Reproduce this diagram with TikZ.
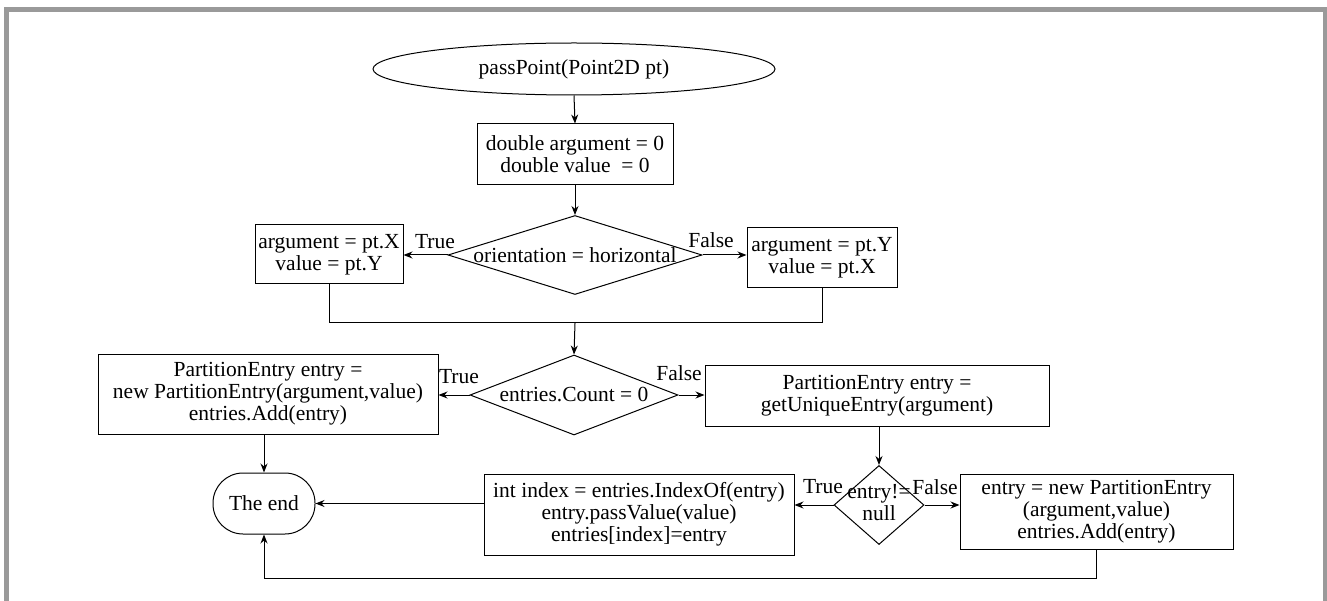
\documentclass[tikz,border=0pt]{standalone}
\usepackage{fontspec}
\setmainfont{Liberation Serif}
\usetikzlibrary{shapes.geometric,arrows.meta}
\definecolor{framegray}{RGB}{154,154,154}
\begin{document}
\begin{tikzpicture}[x=1pt,y=-1pt,
  every node/.style={font=\fontsize{21.5}{22}\selectfont},
  box/.style={draw,line width=1pt,inner sep=0pt,align=center},
  dia/.style={draw,diamond,line width=1pt,inner sep=0pt},
  lbl/.style={inner sep=0pt},
  arr/.style={line width=1pt,-{Stealth[length=9pt,width=7pt]}},
  ln/.style={line width=1pt}]
\useasboundingbox (0,0) rectangle (1327,601);
\draw[line width=5pt,color=framegray] (6.5,601) -- (6.5,9.5) -- (1325,9.5) -- (1325,601);
\node[draw,ellipse,line width=1pt,inner sep=0pt,minimum width=402,minimum height=52] (start) at (574,69) {passPoint(Point2D pt)};
\node[box,minimum width=196,minimum height=61] (b1) at (575,154.5) {double argument = 0\\double value~\ = 0};
\node[dia,minimum width=254,minimum height=79] (d1) at (575,255) {\makebox[0pt]{orientation = horizontal}};
\node[box,minimum width=148,minimum height=59] (lb1) at (329,254.5) {argument = pt.X\\value = pt.Y};
\node[box,minimum width=150,minimum height=60] (rb1) at (822,258) {argument = pt.Y\\value = pt.X};
\coordinate (m) at (575,323);
\node[dia,minimum width=208,minimum height=80] (d2) at (574,395) {\makebox[0pt]{entries.Count = 0}};
\node[box,minimum width=340,minimum height=80] (lb2) at (268,394) {PartitionEntry entry =\\new PartitionEntry(argument,value)\\entries.Add(entry)};
\node[box,minimum width=344,minimum height=61] (rb2) at (877,395.5) {PartitionEntry entry =\\getUniqueEntry(argument)};
\node[box,rounded corners=30pt,minimum width=102,minimum height=61] (end) at (264,503.5) {The end};
\node[dia,minimum width=90,minimum height=79] (d3) at (879,505) {\makebox[0pt]{\begin{tabular}{@{}c@{}}entry!=\\null\end{tabular}}};
\node[box,minimum width=310,minimum height=81] (b3) at (639,514.5) {int index = entries.IndexOf(entry)\\entry.passValue(value)\\entries[index]=entry};
\node[box,minimum width=273,minimum height=75] (b4) at (1096.5,511.5) {entry = new PartitionEntry\\(argument,value)\\entries.Add(entry)};
\coordinate (bot) at (264,578);
\node[lbl] (t1) at (435,242) {True};
\node[lbl] (f1) at (711,240) {False};
\node[lbl] (t2) at (459,377) {True};
\node[lbl] (f2) at (679,373) {False};
\node[lbl] (t3) at (823,487) {True};
\node[lbl] (f3) at (935,487) {False};
\draw[arr] (start.south) -- (b1.north);
\draw[arr] (b1.south) -- (d1.north);
\draw[arr] (d1.west) -- (lb1.east |- d1.west);
\draw[arr] (d1.east) -- (rb1.west |- d1.east);
\draw[ln] (lb1.south) |- (m);
\draw[ln] (rb1.south) |- (m);
\draw[arr] (m) -- (d2.north);
\draw[arr] (d2.west) -- (lb2.east |- d2.west);
\draw[arr] (d2.east) -- (rb2.west |- d2.east);
\draw[arr] (end.north |- lb2.south) -- (end.north);
\draw[arr] (d3.north |- rb2.south) -- (d3.north);
\draw[arr] (d3.west) -- (b3.east |- d3.west);
\draw[arr] (b3.west |- end.east) -- (end.east);
\draw[arr] (d3.east) -- (b4.west |- d3.east);
\draw[arr] (b4.south) |- (bot) -- (end.south);
\end{tikzpicture}
\end{document}
